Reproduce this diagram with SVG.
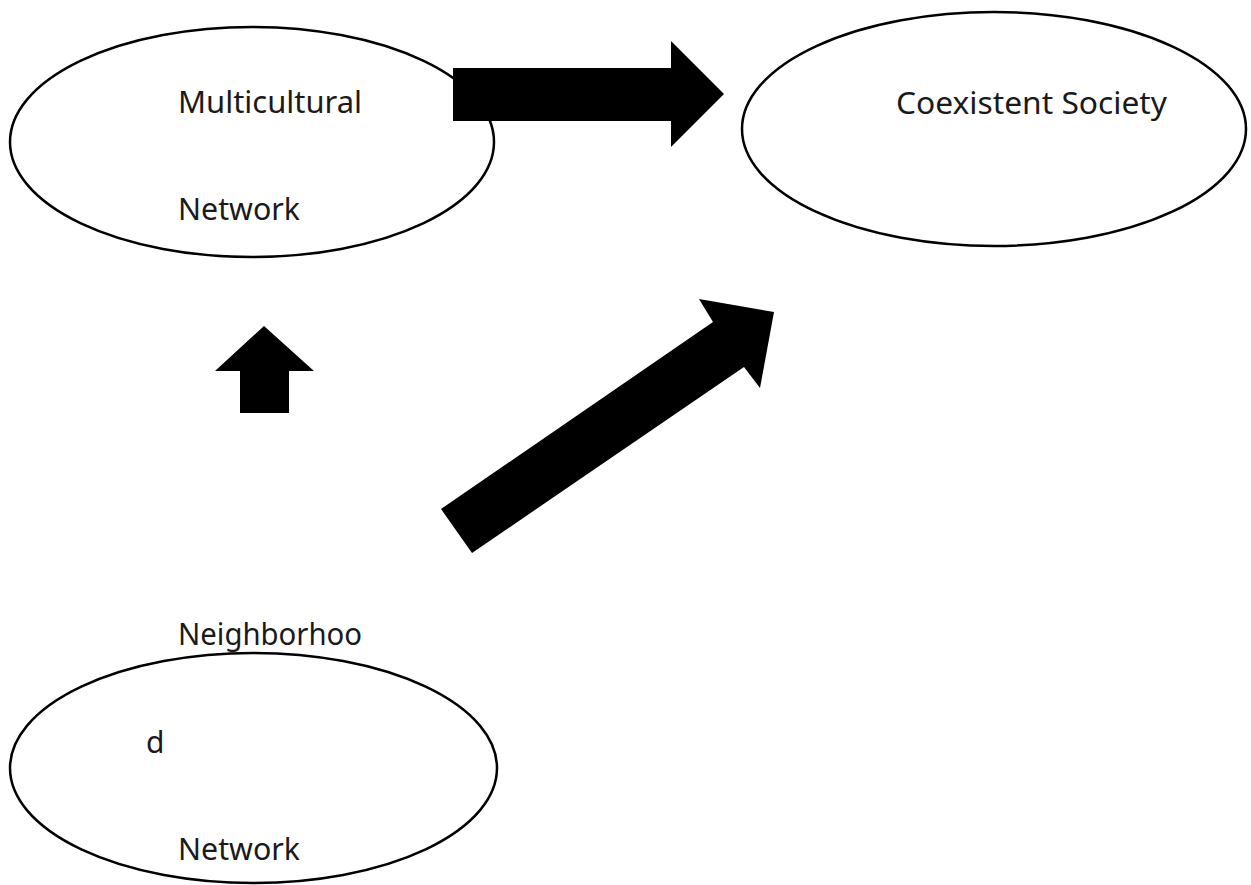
<svg xmlns="http://www.w3.org/2000/svg" width="1251" height="885" viewBox="0 0 1251 885">
<style>
.node{fill:#fff;stroke:#000;stroke-width:2.5}
.lbl{font-family:"Noto Sans","DejaVu Sans",sans-serif;font-size:30px;fill:#1a1a1a}
.arrow{fill:#000;stroke:none}
</style>
<rect width="1251" height="885" fill="#fff"/>
<g id="multicultural">
<ellipse class="node" cx="252" cy="142" rx="242" ry="115"/>
<text class="lbl" x="178" y="113" textLength="184" lengthAdjust="spacingAndGlyphs">Multicultural</text>
<text class="lbl" x="178" y="220" textLength="122" lengthAdjust="spacingAndGlyphs">Network</text>
</g>
<g id="coexistent">
<ellipse class="node" cx="994" cy="129" rx="252" ry="117"/>
<text class="lbl" x="896" y="114" textLength="271" lengthAdjust="spacingAndGlyphs">Coexistent Society</text>
</g>
<g id="neighborhood">
<ellipse class="node" cx="253.5" cy="768" rx="243.5" ry="115"/>
<text class="lbl" x="178" y="645" textLength="184" lengthAdjust="spacingAndGlyphs">Neighborhoo</text>
<text class="lbl" x="146" y="753">d</text>
<text class="lbl" x="178" y="860" textLength="122" lengthAdjust="spacingAndGlyphs">Network</text>
</g>
<g id="connectors">
<polygon class="arrow" points="453,68 671,68 671,41 724,94 671,147 671,121 453,121"/>
<polygon class="arrow" points="264,326 314,371 289,371 289,413 240,413 240,371 215,371"/>
<polygon class="arrow" points="441,509 713,322 699,299 774,312 760,388 744,367 472,553"/>
</g>
</svg>
